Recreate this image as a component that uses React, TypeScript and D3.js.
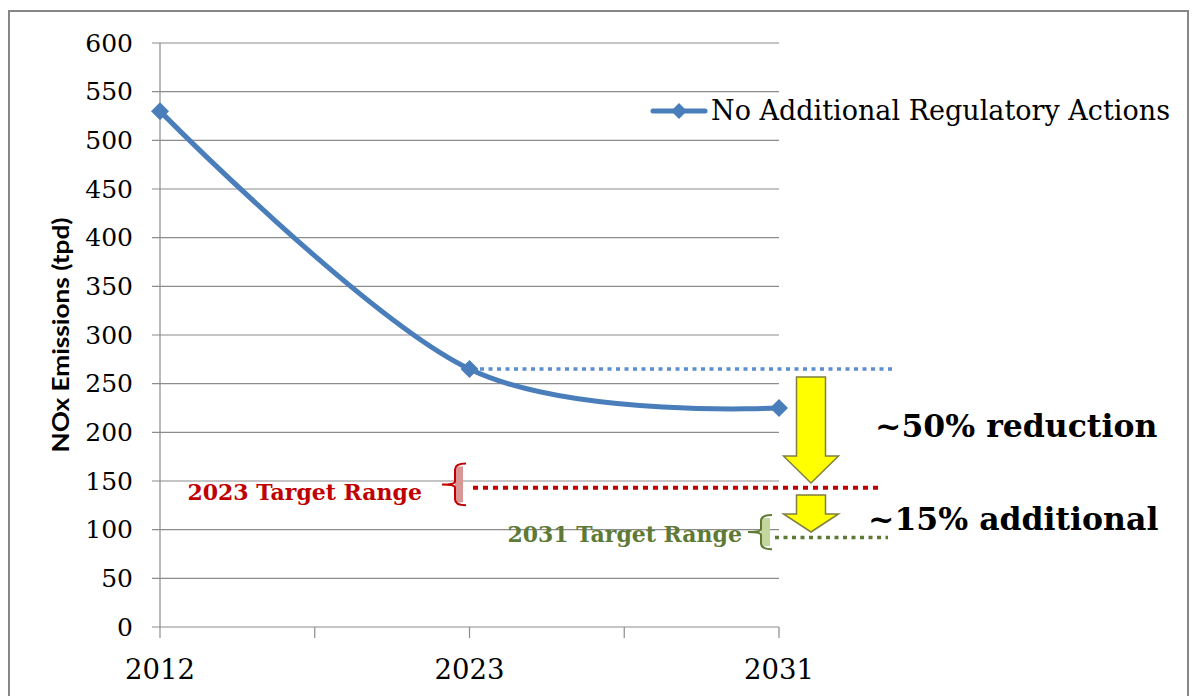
import React from "react";
import * as d3 from "d3";

const categories = ["2012", "", "2023", "", "2031"];
const seriesName = "No Additional Regulatory Actions";
const seriesIdx = [0, 2, 4];
const seriesValues = [530, 265, 225];
const yTicks = [0, 50, 100, 150, 200, 250, 300, 350, 400, 450, 500, 550, 600];
const refLevel = 265;
const target2023 = { label: "2023 Target Range", value: 143, lo: 125, hi: 168 };
const target2031 = { label: "2031 Target Range", value: 92, lo: 80, hi: 115 };
const reductions = ["~50% reduction", "~15% additional"];

const W = 1192;
const H = 696;
const serif = "'DejaVu Serif', serif";
const blue = "#4A7EBB";
const grid = "#8c8c8c";

export default function App() {
  const x = d3.scalePoint<number>().domain(d3.range(categories.length)).range([160, 779]);
  const y = d3.scaleLinear().domain([0, 600]).range([627, 43]);
  const pts: [number, number][] = seriesIdx.map((i, k) => [x(i)!, y(seriesValues[k])]);
  const line = d3.line().curve(d3.curveCardinal.tension(0))(pts) || "";
  const diamond = (cx: number, cy: number, r: number) =>
    `M${cx},${cy - r}L${cx + r},${cy}L${cx},${cy + r}L${cx - r},${cy}Z`;

  const brace = (xr: number, top: number, bot: number, tipX: number) => {
    const xl = xr - 11;
    const mid = (top + bot) / 2;
    return `M${xr},${top} Q${xl},${top} ${xl},${top + 6} L${xl},${mid - 3} Q${xl},${mid} ${tipX},${mid} Q${xl},${mid} ${xl},${mid + 3} L${xl},${bot - 6} Q${xl},${bot} ${xr},${bot}`;
  };

  const arrow = (cx: number, top: number, neck: number, tip: number) => {
    const sw = 14.5, hw = 27.5;
    return `M${cx - sw},${top} L${cx + sw},${top} L${cx + sw},${neck} L${cx + hw},${neck} L${cx},${tip} L${cx - hw},${neck} L${cx - sw},${neck} Z`;
  };

  const r23top = y(target2023.hi), r23bot = y(target2023.lo);
  const r31top = y(target2031.hi), r31bot = y(target2031.lo);

  return (
    <svg width={W} height={H} style={{ position: "absolute", left: 0, top: 0, background: "#fff" }}>
      <rect x={9} y={11} width={1179} height={700} fill="#fff" stroke="#868686" strokeWidth={2} />
      {/* gridlines */}
      {yTicks.map((t) => (
        <line key={t} x1={152} x2={779} y1={y(t)} y2={y(t)} stroke={grid} strokeWidth={1.2} />
      ))}
      <line x1={x(0)} x2={x(0)} y1={y(600)} y2={y(0)} stroke={grid} strokeWidth={1.2} />
      {categories.map((c, i) => (
        <line key={i} x1={x(i)} x2={x(i)} y1={y(0)} y2={y(0) + 11} stroke={grid} strokeWidth={1.2} />
      ))}
      {yTicks.map((t) => (
        <text key={t} x={133} y={y(t) + 8.5} textAnchor="end" fontFamily={serif} fontSize={25} fill="#000">
          {t}
        </text>
      ))}
      {categories.map((c, i) =>
        c ? (
          <text key={i} x={x(i)} y={679} textAnchor="middle" fontFamily={serif} fontSize={27.5} fill="#000">
            {c}
          </text>
        ) : null
      )}
      <text
        transform={`translate(69,335) rotate(-90)`}
        textAnchor="middle"
        fontFamily="Lato, 'Liberation Sans', sans-serif"
        fontWeight="bold"
        fontSize={23}
        textLength={235}
        lengthAdjust="spacingAndGlyphs"
        fill="#000"
      >
        NOx Emissions (tpd)
      </text>

      {/* reference dotted lines */}
      <line x1={480} x2={895} y1={y(refLevel)} y2={y(refLevel)} stroke="#5B8FD0" strokeWidth={3.5} strokeDasharray="4 4.5" />
      <line x1={473} x2={882} y1={y(target2023.value)} y2={y(target2023.value)} stroke="#C00000" strokeWidth={4} strokeDasharray="5 5" />
      <line x1={775} x2={888} y1={y(target2031.value)} y2={y(target2031.value)} stroke="#5E7A35" strokeWidth={3.5} strokeDasharray="4 4.5" />

      {/* series */}
      <path d={line} fill="none" stroke={blue} strokeWidth={5} strokeLinecap="round" />
      {pts.map(([px, py], i) => (
        <path key={i} d={diamond(px, py, 9)} fill={blue} />
      ))}

      {/* legend */}
      <line x1={653} x2={705} y1={111} y2={111} stroke={blue} strokeWidth={5} strokeLinecap="round" />
      <path d={diamond(679, 111, 8)} fill={blue} />
      <text x={711} y={120} fontFamily={serif} fontSize={27} textLength={459} lengthAdjust="spacingAndGlyphs" fill="#000">
        {seriesName}
      </text>

      {/* 2023 target */}
      <text x={422} y={500} textAnchor="end" fontFamily={serif} fontWeight="bold" fontSize={22} fill="#C00000">
        {target2023.label}
      </text>
      <rect x={455} y={r23top + 3} width={8} height={r23bot - r23top - 6} fill="#D99694" />
      <path d={brace(466, r23top, r23bot, 442)} fill="none" stroke="#C00000" strokeWidth={2} />

      {/* 2031 target */}
      <text x={742} y={542} textAnchor="end" fontFamily={serif} fontWeight="bold" fontSize={22} fill="#5E7A35">
        {target2031.label}
      </text>
      <rect x={761} y={r31top + 3} width={9} height={r31bot - r31top - 6} fill="#C3D69B" />
      <path d={brace(772, r31top, r31bot, 748)} fill="none" stroke="#5E7A35" strokeWidth={2} />

      {/* arrows */}
      <path d={arrow(811, 377, 456, 483)} fill="#FFFF00" stroke="#7f7f40" strokeWidth={1.5} />
      <path d={arrow(811, 495, 514, 532)} fill="#FFFF00" stroke="#7f7f40" strokeWidth={1.5} />

      <text x={875} y={437} fontFamily={serif} fontWeight="bold" fontSize={31.5} fill="#000">
        {reductions[0]}
      </text>
      <text x={868} y={530} fontFamily={serif} fontWeight="bold" fontSize={31.5} fill="#000">
        {reductions[1]}
      </text>
    </svg>
  );
}
